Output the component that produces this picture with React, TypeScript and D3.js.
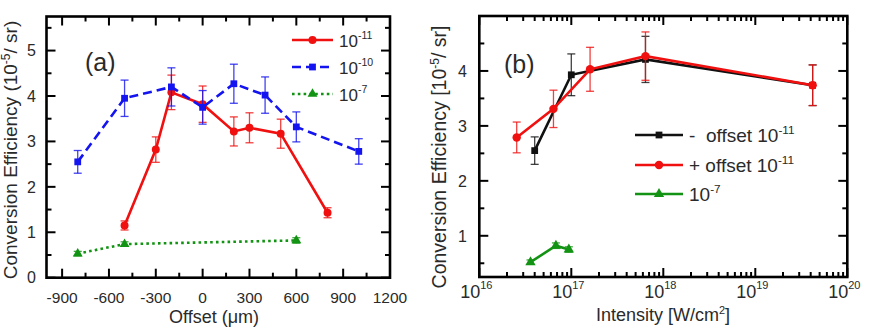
import React from "react";
import * as d3 from "d3";

// panel (a): conversion efficiency vs offset
const offRed = [-500, -300, -200, 0, 200, 300, 500, 800];
const ceRed = [1.15, 2.82, 4.08, 3.82, 3.22, 3.3, 3.17, 1.43];
const errRed = [0.1, 0.28, 0.38, 0.4, 0.32, 0.33, 0.32, 0.11];
const offBlue = [-800, -500, -200, 0, 200, 400, 600, 1000];
const ceBlue = [2.55, 3.95, 4.2, 3.75, 4.27, 4.02, 3.32, 2.78];
const errBlue = [0.25, 0.4, 0.42, 0.37, 0.43, 0.4, 0.33, 0.28];
const offGreen = [-800, -500, 600];
const ceGreen = [0.53, 0.74, 0.82];
const errGreen = [0.05, 0.05, 0.06];

// panel (b): conversion efficiency vs intensity
const intNeg = [4.0e16, 1.0e17, 6.4e17, 4.2e19];
const ceNeg = [2.55, 3.93, 4.21, 3.74];
const errNeg = [0.25, 0.38, 0.42, 0.37];
const intPos = [2.55e16, 6.4e16, 1.6e17, 6.4e17, 4.2e19];
const cePos = [2.79, 3.31, 4.03, 4.27, 3.74];
const errPos = [0.28, 0.34, 0.4, 0.44, 0.37];
const intGreen = [3.6e16, 6.8e16, 9.4e16];
const ceGreenB = [0.52, 0.82, 0.75];
const errGreenB = [0.04, 0.05, 0.05];

const offTicks = [-900, -600, -300, 0, 300, 600, 900, 1200];
const offMinor = [-750, -450, -150, 150, 450, 750, 1050];
const ceTicksA = [0, 1, 2, 3, 4, 5];
const ceTicksB = [1, 2, 3, 4];
const decades = [16, 17, 18, 19, 20];

const FONT = "'Liberation Sans', Arial, sans-serif";
const TXT = "#2a2a2a";
const RED = "#f01010";
const BLUE = "#1414f0";
const GREEN = "#139313";
const BLACK = "#111";

type Pt = { x: number; y: number; e: number };
const zip = (xs: number[], ys: number[], es: number[]): Pt[] => xs.map((x, i) => ({ x, y: ys[i], e: es[i] }));

export default function App() {
  const ref = React.useRef<SVGSVGElement | null>(null);

  React.useEffect(() => {
    if (!ref.current) return;
    const svg = d3.select(ref.current);
    svg.selectAll("*").remove();

    const series = (
      g: any,
      pts: Pt[],
      x: (v: number) => number,
      y: (v: number) => number,
      color: string,
      sym: d3.SymbolType,
      size: number,
      dash: string | null
    ) => {
      pts.forEach(p => {
        const cx = x(p.x);
        g.append("line").attr("x1", cx).attr("x2", cx).attr("y1", y(p.y - p.e)).attr("y2", y(p.y + p.e))
          .attr("stroke", color).attr("stroke-width", 1.3).attr("opacity", 0.8);
        [p.y - p.e, p.y + p.e].forEach(v =>
          g.append("line").attr("x1", cx - 4).attr("x2", cx + 4).attr("y1", y(v)).attr("y2", y(v))
            .attr("stroke", color).attr("stroke-width", 1.3).attr("opacity", 0.8)
        );
      });
      const line = d3.line<Pt>().x(d => x(d.x)).y(d => y(d.y));
      g.append("path").datum(pts).attr("fill", "none").attr("stroke", color).attr("stroke-width", 2.6)
        .attr("stroke-dasharray", dash).attr("d", line);
      g.selectAll(null).data(pts).enter().append("path")
        .attr("d", d3.symbol().type(sym).size(size)())
        .attr("transform", (d: Pt) => `translate(${x(d.x)},${y(d.y)})`)
        .attr("fill", color);
    };

    const legendItem = (
      lx: number, ly: number, w: number, color: string, sym: d3.SymbolType, size: number,
      dash: string | null, label: string, sup: string, fs: number
    ) => {
      svg.append("line").attr("x1", lx).attr("x2", lx + w).attr("y1", ly).attr("y2", ly)
        .attr("stroke", color).attr("stroke-width", 2.6).attr("stroke-dasharray", dash);
      svg.append("path").attr("d", d3.symbol().type(sym).size(size)())
        .attr("transform", `translate(${lx + w / 2},${ly})`).attr("fill", color);
      const t = svg.append("text").attr("x", lx + w + 6).attr("y", ly + 7).attr("font-size", fs)
        .attr("fill", TXT).style("white-space", "pre");
      t.append("tspan").text(label);
      t.append("tspan").attr("dy", -8).attr("font-size", fs * 0.62).text(sup);
    };

    // ---------- panel (a) ----------
    const xa = d3.scaleLinear().domain([-1000, 1200]).range([46.5, 390]);
    const ya = d3.scaleLinear().domain([0, 5.75]).range([277.7, 16.5]);
    const ga = svg.append("g");

    offTicks.concat(offMinor).forEach(v => {
      const len = offTicks.includes(v) ? 9 : 5;
      ga.append("line").attr("x1", xa(v)).attr("x2", xa(v)).attr("y1", ya.range()[0]).attr("y2", ya.range()[0] - len)
        .attr("stroke", "#000").attr("stroke-width", 2);
      ga.append("line").attr("x1", xa(v)).attr("x2", xa(v)).attr("y1", ya.range()[1]).attr("y2", ya.range()[1] + len)
        .attr("stroke", "#000").attr("stroke-width", 2);
    });
    d3.range(0, 5.75, 0.5).forEach(v => {
      const len = v % 1 === 0 ? 9 : 5;
      ga.append("line").attr("x1", 46.5).attr("x2", 46.5 + len).attr("y1", ya(v)).attr("y2", ya(v))
        .attr("stroke", "#000").attr("stroke-width", 2);
      ga.append("line").attr("x1", 390).attr("x2", 390 - len).attr("y1", ya(v)).attr("y2", ya(v))
        .attr("stroke", "#000").attr("stroke-width", 2);
    });
    offTicks.forEach(v =>
      ga.append("text").attr("x", xa(v)).attr("y", 303).attr("text-anchor", "middle").attr("font-size", 15.5)
        .attr("fill", TXT).text(String(v))
    );
    ceTicksA.forEach(v =>
      ga.append("text").attr("x", 36).attr("y", ya(v)).attr("dy", "0.36em").attr("text-anchor", "end")
        .attr("font-size", 16).attr("fill", TXT).text(String(v))
    );

    series(ga, zip(offGreen, ceGreen, errGreen), xa, ya, GREEN, d3.symbolTriangle, 42, "2.6,3.2");
    series(ga, zip(offRed, ceRed, errRed), xa, ya, RED, d3.symbolCircle, 50, null);
    series(ga, zip(offBlue, ceBlue, errBlue), xa, ya, BLUE, d3.symbolSquare, 46, "9,5");

    ga.append("rect").attr("x", 46.5).attr("y", 16.5).attr("width", 390 - 46.5).attr("height", 277.7 - 16.5)
      .attr("fill", "none").attr("stroke", "#000").attr("stroke-width", 2.6);

    ga.append("text").attr("x", 85).attr("y", 71).attr("font-size", 25).attr("fill", TXT).text("(a)");
    ga.append("text").attr("x", 214).attr("y", 323).attr("text-anchor", "middle").attr("font-size", 18)
      .attr("fill", TXT).text("Offset (\u03bcm)");
    const ta = ga.append("text").attr("transform", "translate(17,150) rotate(-90)").attr("text-anchor", "middle")
      .attr("font-size", 19).attr("fill", TXT);
    ta.append("tspan").text("Conversion Efficiency (10");
    ta.append("tspan").attr("dy", -7).attr("font-size", 12).text("-5");
    ta.append("tspan").attr("dy", 7).text("/ sr)");

    legendItem(292, 40, 41, RED, d3.symbolCircle, 50, null, "10", "-11", 17);
    legendItem(292, 67, 41, BLUE, d3.symbolSquare, 46, "9,5", "10", "-10", 17);
    legendItem(292, 94, 41, GREEN, d3.symbolTriangle, 42, "2.6,3.2", "10", "-7", 17);

    // ---------- panel (b) ----------
    const xb = d3.scaleLog().domain([1e16, 1e20]).range([479.3, 847.3]);
    const yb = d3.scaleLinear().domain([0.25, 5]).range([277, 16]);
    const gb = svg.append("g");

    decades.forEach(d => {
      const vals = d < 20 ? d3.range(1, 10).map(m => m * Math.pow(10, d)) : [Math.pow(10, d)];
      vals.forEach((v, i) => {
        const len = i === 0 ? 9 : 5;
        gb.append("line").attr("x1", xb(v)).attr("x2", xb(v)).attr("y1", 277).attr("y2", 277 - len)
          .attr("stroke", "#000").attr("stroke-width", 2);
        gb.append("line").attr("x1", xb(v)).attr("x2", xb(v)).attr("y1", 16).attr("y2", 16 + len)
          .attr("stroke", "#000").attr("stroke-width", 2);
      });
      const t = gb.append("text").attr("x", xb(Math.pow(10, d)) - 3).attr("y", 298).attr("text-anchor", "middle")
        .attr("font-size", 18).attr("fill", TXT);
      t.append("tspan").text("10");
      t.append("tspan").attr("dy", -9).attr("font-size", 11).text(String(d));
    });
    d3.range(0.5, 5.01, 0.5).forEach(v => {
      const len = v % 1 === 0 ? 9 : 5;
      gb.append("line").attr("x1", 479.3).attr("x2", 479.3 + len).attr("y1", yb(v)).attr("y2", yb(v))
        .attr("stroke", "#000").attr("stroke-width", 2);
      gb.append("line").attr("x1", 847.3).attr("x2", 847.3 - len).attr("y1", yb(v)).attr("y2", yb(v))
        .attr("stroke", "#000").attr("stroke-width", 2);
    });
    ceTicksB.forEach(v =>
      gb.append("text").attr("x", 467).attr("y", yb(v)).attr("dy", "0.36em").attr("text-anchor", "end")
        .attr("font-size", 16).attr("fill", TXT).text(String(v))
    );

    series(gb, zip(intNeg, ceNeg, errNeg), xb, yb, BLACK, d3.symbolSquare, 46, null);
    series(gb, zip(intPos, cePos, errPos), xb, yb, RED, d3.symbolCircle, 56, null);
    series(gb, zip(intGreen, ceGreenB, errGreenB), xb, yb, GREEN, d3.symbolTriangle, 46, null);

    gb.append("rect").attr("x", 479.3).attr("y", 16).attr("width", 847.3 - 479.3).attr("height", 277 - 16)
      .attr("fill", "none").attr("stroke", "#000").attr("stroke-width", 2.6);

    gb.append("text").attr("x", 504).attr("y", 73).attr("font-size", 25).attr("fill", TXT).text("(b)");
    const ix = gb.append("text").attr("x", 663).attr("y", 321).attr("text-anchor", "middle").attr("font-size", 18)
      .attr("fill", TXT);
    ix.append("tspan").text("Intensity [W/cm");
    ix.append("tspan").attr("dy", -7).attr("font-size", 11).text("2");
    ix.append("tspan").attr("dy", 7).text("]");
    const tb = gb.append("text").attr("transform", "translate(446,157) rotate(-90)").attr("text-anchor", "middle")
      .attr("font-size", 19.5).attr("fill", TXT);
    tb.append("tspan").text("Conversion Efficiency [10");
    tb.append("tspan").attr("dy", -7).attr("font-size", 12).text("-5");
    tb.append("tspan").attr("dy", 7).text("/ sr]");

    legendItem(635, 135, 48, BLACK, d3.symbolSquare, 46, null, "-  offset 10", "-11", 19);
    legendItem(635, 165, 48, RED, d3.symbolCircle, 56, null, "+ offset 10", "-11", 19);
    legendItem(635, 194, 48, GREEN, d3.symbolTriangle, 46, null, "10", "-7", 19);
  }, []);

  return (
    <svg
      ref={ref}
      width={872}
      height={330}
      style={{ position: "absolute", left: 0, top: 0, background: "#fff", fontFamily: FONT }}
    />
  );
}
